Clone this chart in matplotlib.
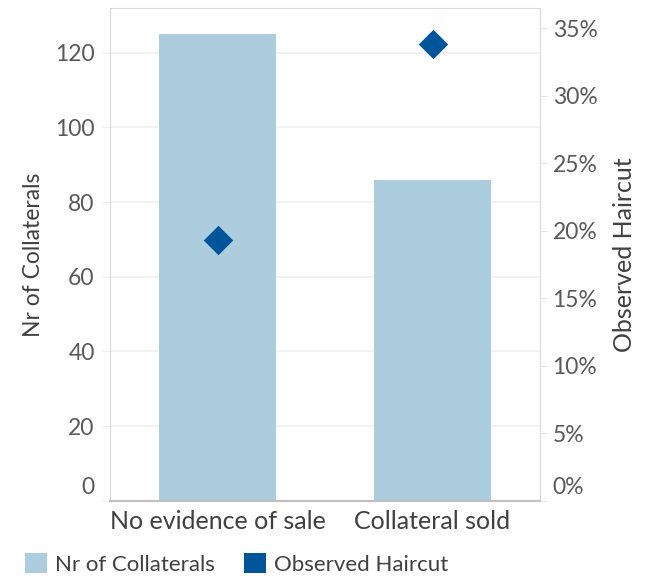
import matplotlib
matplotlib.use("Agg")
import matplotlib.pyplot as plt
import matplotlib.transforms as mtransforms
from matplotlib.patches import Patch

categories = ["No evidence of sale", "Collateral sold"]
nr_collaterals = [125, 86]
observed_haircut = [19.3, 33.8]  # percent
left_ticks = [0, 20, 40, 60, 80, 100, 120]
right_ticks = [0, 5, 10, 15, 20, 25, 30, 35]

plt.rcParams['font.family'] = ['Lato', 'DejaVu Sans']
text_col = '#595959'
bar_col = '#ABCDDE'
dia_col = '#00559A'

fig = plt.figure(figsize=(6.46, 5.76), dpi=100)
ax = fig.add_axes([0.1703, 0.1307, 0.836 - 0.1703, 0.986 - 0.1307])
x = list(range(len(categories)))
ax.bar(x, nr_collaterals, width=0.54, color=bar_col, zorder=2)
ax.set_xlim(-0.5, 1.5)
ax.set_ylim(0, 132)
ax.set_yticks(left_ticks)
ax.set_yticklabels([str(t) for t in left_ticks])
ax.set_xticks(x)
ax.set_xticklabels(categories, fontsize=18, color='#404040')
ax.grid(axis='y', color='#F0F0F0', linewidth=1.2, zorder=0)
ax.set_axisbelow(True)
for s in ['top', 'left', 'right']:
    ax.spines[s].set_color('#D9D9D9')
ax.spines['bottom'].set_color('#BFBFBF')
ax.spines['bottom'].set_linewidth(1.5)
ax.tick_params(axis='y', length=6, color='#F0F0F0', labelsize=16.5, labelcolor=text_col, pad=5)
ax.tick_params(axis='x', length=0, pad=7)
ax.set_ylabel("Nr of Collaterals", fontsize=16.5, color='#404040', labelpad=8)

ax2 = ax.twinx()
ax2.scatter(x, observed_haircut, marker='D', s=15**2, color=dia_col, zorder=3, linewidths=0)
ax2.set_ylim(0, 36.48)
ax2.set_yticks(right_ticks)
ax2.set_yticklabels([f"{t}%" for t in right_ticks])
ax2.tick_params(axis='y', length=5, color='#E6E6E6', labelsize=16.5, labelcolor=text_col, pad=4)
for s in ['top', 'left', 'right', 'bottom']:
    ax2.spines[s].set_visible(False)
ax2.set_ylabel("Observed Haircut", fontsize=18, color='#404040', labelpad=11)

# shift the zero labels upward like the reference
off = mtransforms.ScaledTranslation(0, 15 / 100, fig.dpi_scale_trans)
lbl0 = ax.get_yticklabels()[0]
lbl0.set_transform(lbl0.get_transform() + off)
lbl0r = ax2.get_yticklabels()[0]
lbl0r.set_transform(lbl0r.get_transform() + off)

handles = [Patch(facecolor=bar_col, edgecolor='none', label="Nr of Collaterals"),
           Patch(facecolor=dia_col, edgecolor='none', label="Observed Haircut")]
leg = fig.legend(handles=handles, loc='lower left', bbox_to_anchor=(0.008, -0.033), ncol=2,
                 frameon=False, fontsize=16, handlelength=1.0, handleheight=1.0,
                 columnspacing=1.3, handletextpad=0.35)
for t in leg.get_texts():
    t.set_color('#404040')

fig.savefig("out.png", dpi=100)
